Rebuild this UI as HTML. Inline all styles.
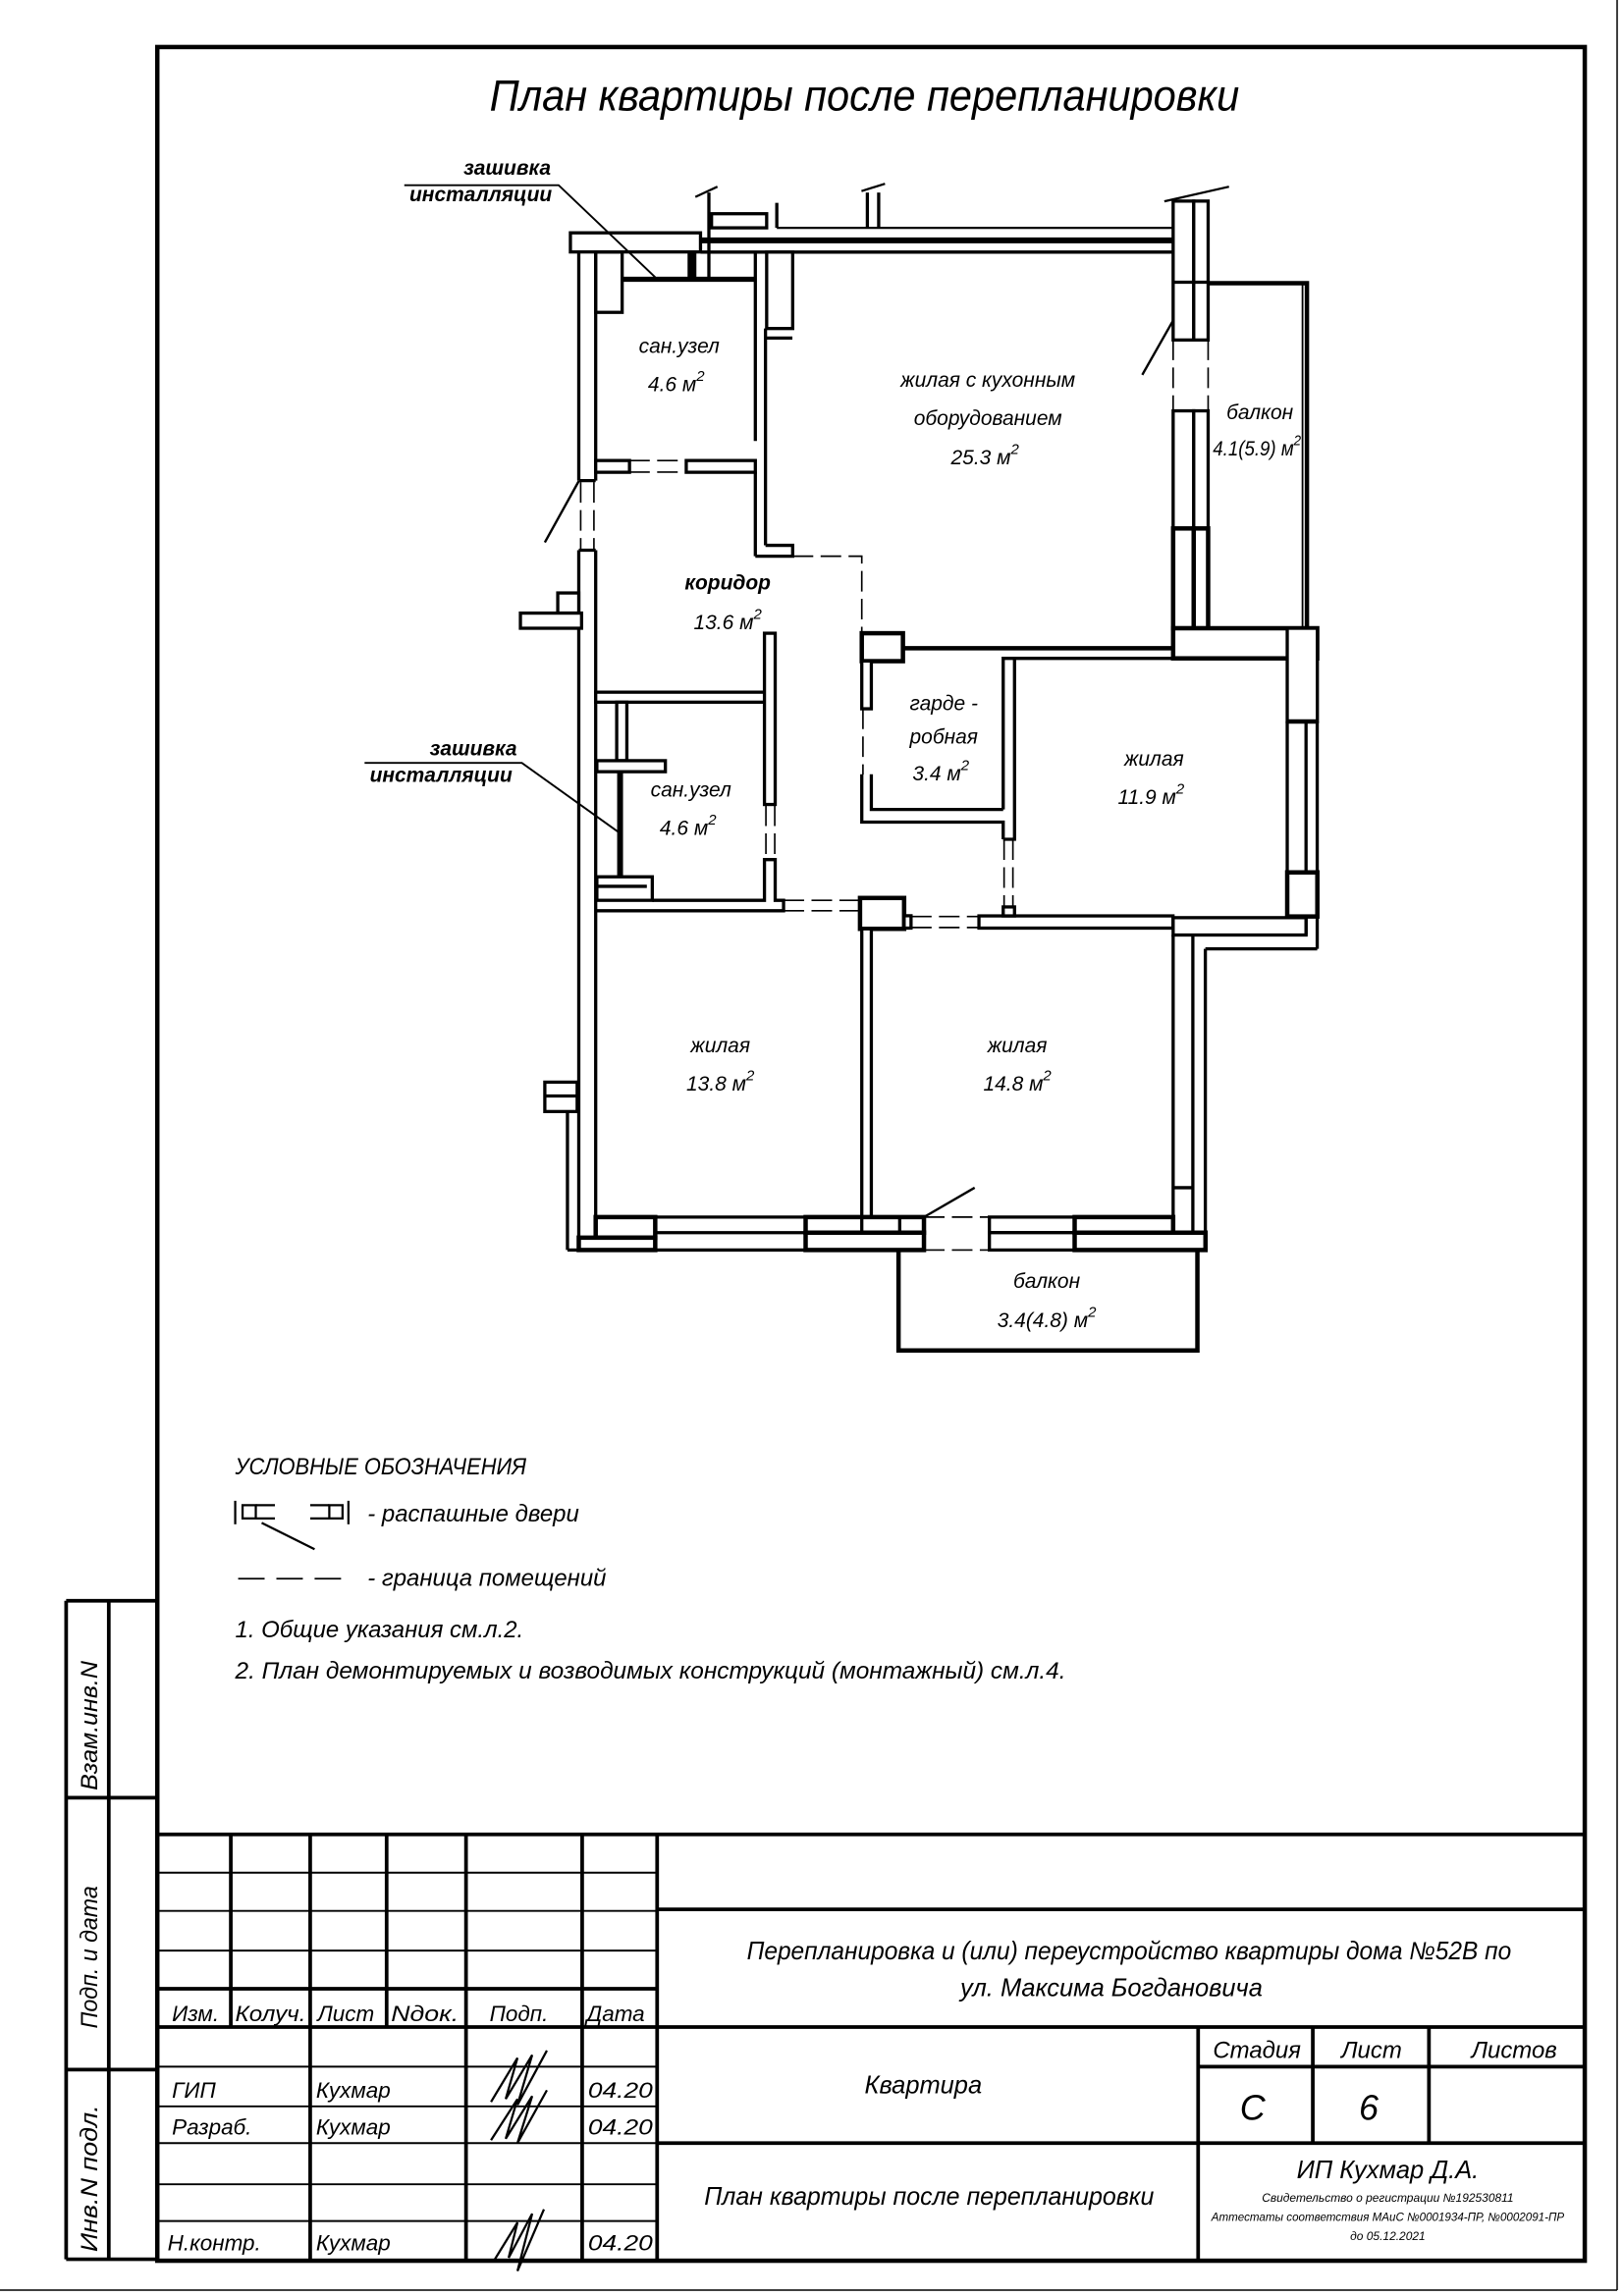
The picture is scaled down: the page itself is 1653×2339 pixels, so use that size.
<!DOCTYPE html>
<html><head><meta charset="utf-8"><style>
html,body{margin:0;padding:0;background:#fff}
svg{display:block}
text{font-family:"Liberation Sans Narrow","Liberation Sans","DejaVu Sans",sans-serif;font-style:italic;fill:#000}
</style></head><body>
<svg width="1653" height="2339" viewBox="0 0 1104 1562" preserveAspectRatio="none" xmlns="http://www.w3.org/2000/svg">
<rect width="1104" height="1562" fill="#fff"/>
<g fill="none" stroke="#000">
<line x1="1100" y1="0" x2="1100" y2="1558" stroke-width="1"/>
<line x1="0" y1="1558" x2="1100" y2="1558" stroke-width="1"/>
<rect x="107" y="32" width="971" height="1506" stroke-width="3"/>
<g stroke-width="2.5">
<line x1="45" y1="1089" x2="107" y2="1089"/><line x1="45" y1="1089" x2="45" y2="1537"/>
<line x1="74" y1="1089" x2="74" y2="1537"/><line x1="45" y1="1223" x2="107" y2="1223"/>
<line x1="45" y1="1408" x2="107" y2="1408"/><line x1="45" y1="1537" x2="107" y2="1537"/>
</g>
<g stroke-width="2.5">
<line x1="107" y1="1248" x2="1078" y2="1248"/>
<line x1="447" y1="1248" x2="447" y2="1537"/>
<line x1="157" y1="1248" x2="157" y2="1379"/><line x1="211" y1="1248" x2="211" y2="1537"/>
<line x1="263" y1="1248" x2="263" y2="1379"/><line x1="317" y1="1248" x2="317" y2="1537"/>
<line x1="396" y1="1248" x2="396" y2="1537"/>
<line x1="107" y1="1353" x2="447" y2="1353"/><line x1="107" y1="1379" x2="1078" y2="1379"/>
<line x1="447" y1="1299" x2="1078" y2="1299"/><line x1="447" y1="1458" x2="1078" y2="1458"/>
<line x1="815" y1="1379" x2="815" y2="1537"/>
<line x1="893" y1="1379" x2="893" y2="1458"/><line x1="972" y1="1379" x2="972" y2="1458"/>
<line x1="815" y1="1406" x2="1078" y2="1406"/>
</g>
<g stroke-width="1.3">
<line x1="107" y1="1274" x2="447" y2="1274"/><line x1="107" y1="1300" x2="447" y2="1300"/>
<line x1="107" y1="1327" x2="447" y2="1327"/><line x1="107" y1="1433" x2="447" y2="1433"/>
<line x1="107" y1="1486" x2="447" y2="1486"/><line x1="107" y1="1511" x2="447" y2="1511"/>
<line x1="107" y1="1406" x2="447" y2="1406"/><line x1="107" y1="1458" x2="447" y2="1458"/>
</g>
</g>
<g fill="none" stroke="#000" stroke-width="1.5">
<path d="M334 1430 L352 1400 L344 1428 L362 1398 L352 1432 L372 1395"/>
<path d="M334 1456 L352 1428 L344 1455 L362 1426 L352 1458 L372 1422"/>
<path d="M336 1538 L352 1512 L346 1536 L362 1506 L352 1545 L370 1503"/>
</g>

<g fill="#fff" stroke="#000" stroke-width="2.2">
<rect x="388" y="158.4" width="88.5" height="13"/>
<line x1="476.5" y1="163.5" x2="798" y2="163.5" stroke-width="4"/>
<line x1="476.5" y1="171.5" x2="798" y2="171.5"/>
<line x1="528.4" y1="155" x2="798" y2="155" stroke-width="1.5"/>
<rect x="484" y="145.4" width="37.5" height="9.6"/>
<polyline points="482.2,190 482.2,131" fill="none"/>
<line x1="528.4" y1="138" x2="528.4" y2="155"/>
<line x1="590" y1="131" x2="590" y2="155"/><line x1="597.7" y1="131" x2="597.7" y2="155"/>
<line x1="473" y1="134" x2="488" y2="127" stroke-width="1.5"/>
<line x1="586" y1="130" x2="602" y2="125" stroke-width="1.5"/>
<line x1="792" y1="137" x2="836" y2="127" stroke-width="1.5"/>
<rect x="468.8" y="171.5" width="3.8" height="18.5" fill="#000"/>
<line x1="423" y1="190" x2="513.8" y2="190" stroke-width="3.5"/>
<rect x="405.2" y="171.5" width="18" height="41"/>
<line x1="393.7" y1="171.5" x2="393.7" y2="327"/><line x1="405.2" y1="171.5" x2="405.2" y2="327"/>
<line x1="393.7" y1="327" x2="405.2" y2="327"/>
<rect x="405.2" y="313.3" width="23" height="8"/>
<rect x="466.8" y="313.3" width="47" height="8"/>
<rect x="521.5" y="171.5" width="17.7" height="52"/>
<line x1="513.8" y1="171.5" x2="513.8" y2="300"/>
<line x1="513.8" y1="321" x2="513.8" y2="378.4"/>
<line x1="520.7" y1="223.5" x2="520.7" y2="371"/>
<line x1="520.7" y1="230" x2="539" y2="230"/>
<polyline points="513.8,378.4 539.2,378.4 539.2,371 520.7,371" fill="none"/>
<line x1="393.7" y1="374.3" x2="393.7" y2="842"/>
<line x1="405.2" y1="374.3" x2="405.2" y2="828"/>
<line x1="393.7" y1="374.3" x2="405.2" y2="374.3"/>
<rect x="379.4" y="403.4" width="14.3" height="13.7"/>
<rect x="354" y="417.1" width="41.6" height="10.3"/>
<rect x="370.6" y="736.2" width="22" height="20"/>
<line x1="370.6" y1="745.6" x2="392.6" y2="745.6"/>
<line x1="386" y1="756" x2="386" y2="850.4"/>
<rect x="798" y="136.8" width="14" height="94.5"/>
<rect x="812" y="136.8" width="9.8" height="94.5"/>
<line x1="798" y1="192" x2="821.8" y2="192"/>
<rect x="798" y="279.5" width="14" height="80"/>
<rect x="812" y="279.5" width="9.8" height="80"/>
<rect x="798" y="359.5" width="14" height="68" stroke-width="3"/>
<rect x="812" y="359.5" width="9.8" height="68" stroke-width="3"/>
<polyline points="821.8,192.7 889,192.7 889,427.4" fill="none" stroke-width="3"/>
<line x1="886" y1="194" x2="886" y2="427" stroke-width="1.2"/>
<rect x="798" y="427.4" width="98" height="20.5" stroke-width="3"/>
<line x1="614" y1="441" x2="798" y2="441" stroke-width="3"/>
<line x1="690" y1="447.9" x2="798" y2="447.9"/>
<rect x="875.6" y="427.4" width="20.5" height="63.4"/>
<line x1="875.6" y1="490.8" x2="896" y2="490.8" stroke-width="3"/>
<line x1="875.6" y1="490.8" x2="875.6" y2="593.5"/>
<line x1="888.4" y1="490.8" x2="888.4" y2="593.5"/>
<line x1="896" y1="490.8" x2="896" y2="645.5"/>
<rect x="875.6" y="593.5" width="20.5" height="30" stroke-width="3"/>
<rect x="586.2" y="430.8" width="28" height="19" stroke-width="3"/>
<rect x="586.2" y="449.7" width="6.5" height="32.5"/>
<polyline points="586.2,526.7 586.2,559.3 682.4,559.3 682.4,571" fill="none"/>
<polyline points="592.7,526.7 592.7,550.7 682.4,550.7" fill="none"/>
<polyline points="682.4,550.7 682.4,447.9 690.1,447.9 690.1,571 682.4,571" fill="none"/>
<rect x="405.2" y="470.9" width="115" height="6.8"/>
<rect x="520" y="430.8" width="7.3" height="116.5"/>
<rect x="419.5" y="477.7" width="6.9" height="39.8"/>
<rect x="406" y="517.5" width="46.6" height="7.5"/>
<line x1="421.8" y1="525" x2="421.8" y2="598" stroke-width="4"/>
<rect x="406" y="596.5" width="37.7" height="16"/>
<line x1="406" y1="603" x2="440" y2="603"/>
<polyline points="406,619.6 533,619.6 533,612.5 527.3,612.5 527.3,584.8 520,584.8 520,612.5 443.7,612.5" fill="none"/>
<rect x="585" y="610.9" width="30" height="21" stroke-width="3"/>
<rect x="615" y="623" width="4.7" height="8.4"/>
<rect x="665.9" y="623.1" width="132" height="8.3"/>
<rect x="682.4" y="617" width="7.7" height="6.1"/>
<rect x="798" y="624.3" width="90.4" height="11.8"/>
<line x1="819.9" y1="645.5" x2="896" y2="645.5"/>
<line x1="888.4" y1="623.5" x2="888.4" y2="636"/>
<rect x="586.2" y="631.9" width="6.5" height="196"/>
<line x1="798" y1="636" x2="798" y2="828"/>
<line x1="811.4" y1="636" x2="811.4" y2="841"/>
<line x1="819.9" y1="645.5" x2="819.9" y2="850.4"/>
<line x1="798" y1="808" x2="811.4" y2="808"/>
<rect x="405.2" y="828" width="40.5" height="14" stroke-width="3"/>
<rect x="393.7" y="842" width="52" height="8.4" stroke-width="3"/>
<polyline points="386,850.4 393.7,850.4" fill="none"/>
<line x1="445.7" y1="838.6" x2="548" y2="838.6"/><line x1="445.7" y1="850.4" x2="548" y2="850.4"/>
<line x1="445.7" y1="828" x2="548" y2="828"/>
<rect x="548" y="828" width="80.5" height="10.6" stroke-width="3"/>
<rect x="548" y="838.6" width="80.5" height="11.8" stroke-width="3"/>
<line x1="586.2" y1="828" x2="586.2" y2="838.6"/><line x1="612" y1="828" x2="612" y2="838.6"/>
<rect x="673" y="828" width="58" height="10.6"/>
<rect x="673" y="838.6" width="58" height="11.8"/>
<rect x="731" y="828" width="67" height="10.6" stroke-width="3"/>
<rect x="731" y="838.6" width="89" height="11.8" stroke-width="3"/>
<polyline points="611.2,850.4 611.2,918.7 814.5,918.7 814.5,850.4" fill="none" stroke-width="3"/>
</g>
<g fill="none" stroke="#000" stroke-width="1.1" stroke-dasharray="14,5">
<line x1="428" y1="313.3" x2="467" y2="313.3"/><line x1="428" y1="321.2" x2="467" y2="321.2"/>
<line x1="395" y1="328" x2="395" y2="374"/><line x1="404" y1="328" x2="404" y2="374"/>
<polyline points="539.2,378.4 586.2,378.4 586.2,430.8"/>
<line x1="798" y1="231" x2="798" y2="280"/><line x1="821.8" y1="231" x2="821.8" y2="280"/>
<line x1="587" y1="482" x2="587" y2="527"/>
<line x1="521" y1="548" x2="521" y2="585"/><line x1="527" y1="548" x2="527" y2="585"/>
<line x1="683" y1="571" x2="683" y2="617"/><line x1="689" y1="571" x2="689" y2="617"/>
<line x1="533" y1="612.5" x2="585" y2="612.5"/><line x1="533" y1="619.6" x2="585" y2="619.6"/>
<line x1="619.7" y1="623.5" x2="666" y2="623.5"/><line x1="619.7" y1="631" x2="666" y2="631"/>
<line x1="628.5" y1="828" x2="673" y2="828"/><line x1="628.5" y1="850.4" x2="673" y2="850.4"/>
</g>
<g stroke="#000" stroke-width="1.6" fill="none">
<line x1="393.7" y1="327.3" x2="370.6" y2="369"/>
<line x1="798" y1="218" x2="777" y2="255"/>
<line x1="628.5" y1="828" x2="663" y2="808"/>
<polyline points="275,126 380,126 445.7,188.6" stroke-width="1.3"/>
<polyline points="248,519 355,519 420.6,566" stroke-width="1.3"/>
</g>

<g stroke="#000" fill="#fff" stroke-width="1.5">
<rect x="165" y="1024" width="9" height="9"/><rect x="224" y="1024" width="9" height="9"/>
<line x1="160" y1="1021" x2="160" y2="1037"/><line x1="237" y1="1021" x2="237" y2="1037"/>
<line x1="174" y1="1024" x2="187" y2="1024"/><line x1="174" y1="1033" x2="187" y2="1033"/>
<line x1="211" y1="1024" x2="224" y2="1024"/><line x1="211" y1="1033" x2="224" y2="1033"/>
<line x1="178" y1="1036" x2="214" y2="1054"/>
<line x1="162" y1="1074" x2="237" y2="1074" stroke-dasharray="18,8" stroke-width="1.1"/>
</g>

<text x="588" y="75" font-size="30" text-anchor="middle" textLength="510" lengthAdjust="spacingAndGlyphs">План квартиры после перепланировки</text>
<g font-size="14" text-anchor="middle">
<text x="345" y="119" font-weight="bold">зашивка</text>
<text x="327" y="137" font-weight="bold">инсталляции</text>
<text x="322" y="514" font-weight="bold">зашивка</text>
<text x="300" y="532" font-weight="bold">инсталляции</text>
<text x="462" y="240">сан.узел</text>
<text x="460" y="266">4.6 м<tspan dy="-7" font-size="10">2</tspan></text>
<text x="672" y="263">жилая с кухонным</text>
<text x="672" y="289">оборудованием</text>
<text x="670" y="316">25.3 м<tspan dy="-7" font-size="10">2</tspan></text>
<text x="857" y="285">балкон</text>
<text x="855" y="310" textLength="60" lengthAdjust="spacingAndGlyphs">4.1(5.9) м<tspan dy="-7" font-size="10">2</tspan></text>
<text x="495" y="401" font-weight="bold">коридор</text>
<text x="495" y="428">13.6 м<tspan dy="-7" font-size="10">2</tspan></text>
<text x="642" y="483">гарде -</text>
<text x="642" y="506">робная</text>
<text x="640" y="531">3.4 м<tspan dy="-7" font-size="10">2</tspan></text>
<text x="785" y="521">жилая</text>
<text x="783" y="547">11.9 м<tspan dy="-7" font-size="10">2</tspan></text>
<text x="470" y="542">сан.узел</text>
<text x="468" y="568">4.6 м<tspan dy="-7" font-size="10">2</tspan></text>
<text x="490" y="716">жилая</text>
<text x="490" y="742">13.8 м<tspan dy="-7" font-size="10">2</tspan></text>
<text x="692" y="716">жилая</text>
<text x="692" y="742">14.8 м<tspan dy="-7" font-size="10">2</tspan></text>
<text x="712" y="876">балкон</text>
<text x="712" y="903">3.4(4.8) м<tspan dy="-7" font-size="10">2</tspan></text>
</g>
<g font-size="16">
<text x="160" y="1003" textLength="198" lengthAdjust="spacingAndGlyphs">УСЛОВНЫЕ ОБОЗНАЧЕНИЯ</text>
<text x="250" y="1035">- распашные двери</text>
<text x="250" y="1079">- граница помещений</text>
<text x="160" y="1114">1. Общие указания см.л.2.</text>
<text x="160" y="1142" textLength="565" lengthAdjust="spacingAndGlyphs">2. План демонтируемых и возводимых конструкций (монтажный) см.л.4.</text>
</g>
<g font-size="16">
<text transform="translate(66,1218) rotate(-90)" textLength="88" lengthAdjust="spacingAndGlyphs">Взам.инв.N</text>
<text transform="translate(66,1380) rotate(-90)" textLength="97" lengthAdjust="spacingAndGlyphs">Подп.  и  дата</text>
<text transform="translate(66,1532) rotate(-90)" textLength="100" lengthAdjust="spacingAndGlyphs">Инв.N подл.</text>
</g>
<g font-size="15">
<text x="117" y="1375">Изм.</text>
<text x="160" y="1375" textLength="48" lengthAdjust="spacingAndGlyphs">Колуч.</text>
<text x="216" y="1375">Лист</text>
<text x="266" y="1375" textLength="46" lengthAdjust="spacingAndGlyphs">Nдок.</text>
<text x="333" y="1375">Подп.</text>
<text x="399" y="1375">Дата</text>
<text x="117" y="1427">ГИП</text>
<text x="117" y="1452">Разраб.</text>
<text x="114" y="1531">Н.контр.</text>
<text x="215" y="1427">Кухмар</text>
<text x="215" y="1452">Кухмар</text>
<text x="215" y="1531">Кухмар</text>
<text x="400" y="1427" textLength="44" lengthAdjust="spacingAndGlyphs">04.20</text>
<text x="400" y="1452" textLength="44" lengthAdjust="spacingAndGlyphs">04.20</text>
<text x="400" y="1531" textLength="44" lengthAdjust="spacingAndGlyphs">04.20</text>
<text x="768" y="1333" font-size="17" text-anchor="middle" textLength="520" lengthAdjust="spacingAndGlyphs">Перепланировка и (или) переустройство квартиры дома №52В по</text>
<text x="756" y="1358" font-size="17" text-anchor="middle">ул. Максима Богдановича</text>
<text x="628" y="1424" font-size="17" text-anchor="middle">Квартира</text>
<text x="632" y="1500" font-size="17" text-anchor="middle" textLength="306" lengthAdjust="spacingAndGlyphs">План квартиры  после перепланировки</text>
<text x="855" y="1400" text-anchor="middle" font-size="16">Стадия</text>
<text x="933" y="1400" text-anchor="middle" font-size="16">Лист</text>
<text x="1030" y="1400" text-anchor="middle" font-size="16">Листов</text>
<text x="852" y="1442" text-anchor="middle" font-size="24">С</text>
<text x="931" y="1442" text-anchor="middle" font-size="24">6</text>
<text x="944" y="1482" text-anchor="middle" font-size="17">ИП Кухмар Д.А.</text>
<text x="944" y="1498" text-anchor="middle" font-size="8">Свидетельство о регистрации №192530811</text>
<text x="944" y="1511" text-anchor="middle" font-size="8" textLength="240" lengthAdjust="spacingAndGlyphs">Аттестаты соответствия МАиС №0001934-ПР, №0002091-ПР</text>
<text x="944" y="1524" text-anchor="middle" font-size="8">до 05.12.2021</text>
</g>
</svg>
</body></html>
